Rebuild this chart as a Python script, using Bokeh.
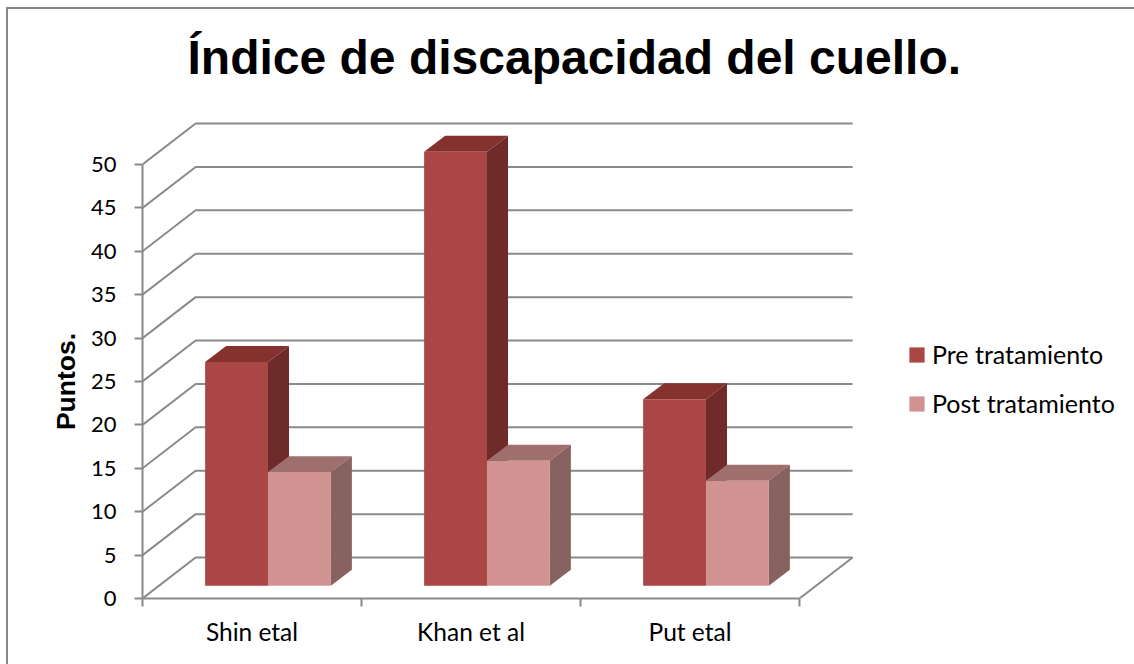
from bokeh.plotting import figure
from bokeh.embed import file_html
from bokeh.resources import INLINE
from bokeh.models import (Range1d, LinearAxis, FixedTicker, Legend, LegendItem)

title_text = "Índice de discapacidad del cuello."
y_title = "Puntos."
categories = ["Shin etal", "Khan et al", "Put etal"]
pre_values = [25.8, 50.0, 21.5]
post_values = [13.1, 14.4, 12.1]
series_names = ["Pre tratamiento", "Post tratamiento"]
y_ticks = [0, 5, 10, 15, 20, 25, 30, 35, 40, 45, 50]

GREY = "#8a8a8a"
PRE = ("#aa4643", "#85322f", "#6f2b29")
POST = ("#d19392", "#9f6f6e", "#876261")
TXT = "Lato"
WALL_DX, WALL_DY = 0.2426, 4.72      # depth of the floor, in category and value units
BAR_DX, BAR_DY = 0.096, 1.84         # depth of a bar
BAR_START, BAR_W, BAR_BASE = 0.286, 0.287, 1.46

p = figure(width=1128, height=657, output_backend="svg", toolbar_location=None,
           x_range=Range1d(0, 994 / 219), y_range=Range1d(0, 498 / 8.68),
           x_axis_type=None, y_axis_type=None, margin=(7, 0, 0, 6),
           min_border_left=134, min_border_right=0, min_border_top=91, min_border_bottom=68,
           title=title_text,
           styles={"border-top": "2px solid #868686", "border-left": "2px solid #868686",
                   "box-sizing": "border-box"})
p.outline_line_color = None
p.grid.visible = False
p.title.align = "left"
p.title.offset = 45
p.title.text_font = "Liberation Sans"
p.title.text_font_style = "bold"
p.title.text_font_size = "48px"
p.title.text_color = "black"
p.title.standoff = 33

# walls
n = len(categories)
p.multi_line([[0, WALL_DX, n + WALL_DX] for _ in y_ticks],
             [[v, v + WALL_DY, v + WALL_DY] for v in y_ticks],
             line_color=GREY, line_width=2)
p.line([n, n + WALL_DX], [0, WALL_DY], line_color=GREY, line_width=2)

# axes
yax = LinearAxis(ticker=FixedTicker(ticks=y_ticks), bounds=(0, 50))
yax.axis_line_color = GREY
yax.axis_line_width = 2
yax.major_tick_line_color = GREY
yax.major_tick_line_width = 2
yax.major_tick_in = 0
yax.major_tick_out = 8
yax.minor_tick_line_color = None
yax.major_label_standoff = 18
yax.major_label_text_font = TXT
yax.major_label_text_font_size = "22px"
yax.major_label_text_color = "black"
p.add_layout(yax, "left")

# axis that only carries the title of the value scale, centred on the middle of that scale
TITLE_AT = 25
tax = LinearAxis(ticker=FixedTicker(ticks=[TITLE_AT]), major_label_overrides={TITLE_AT: y_title},
                 major_label_orientation="vertical")
tax.axis_line_color = None
tax.major_tick_line_color = None
tax.minor_tick_line_color = None
tax.major_label_standoff = 1
tax.major_label_text_font = "Liberation Sans"
tax.major_label_text_font_style = "bold"
tax.major_label_text_font_size = "26.5px"
tax.major_label_text_color = "black"
p.add_layout(tax, "left")

edges = list(range(n + 1))
xax = LinearAxis(ticker=FixedTicker(ticks=edges), bounds=(0, n),
                 major_label_overrides={e: "" for e in edges})
xax.axis_line_color = GREY
xax.axis_line_width = 2
xax.major_tick_line_color = GREY
xax.major_tick_line_width = 2
xax.major_tick_in = 0
xax.major_tick_out = 8
xax.minor_tick_line_color = None
xax.major_label_standoff = 0
xax.major_label_text_font_size = "1px"
p.add_layout(xax, "below")

mids = [i + 0.5 for i in range(n)]
cax = LinearAxis(ticker=FixedTicker(ticks=mids),
                 major_label_overrides=dict(zip(mids, categories)))
cax.axis_line_color = None
cax.major_tick_line_color = None
cax.minor_tick_line_color = None
cax.major_label_standoff = 4
cax.major_label_text_font = TXT
cax.major_label_text_font_size = "24.5px"
cax.major_label_text_color = "black"
p.add_layout(cax, "below")

# bars
def draw_series(values, slot, cols):
    x0 = [i + BAR_START + slot * BAR_W for i in range(n)]
    x1 = [x + BAR_W for x in x0]
    top = [v + BAR_BASE for v in values]
    p.patches([[a, b, b + BAR_DX, a + BAR_DX] for a, b in zip(x0, x1)],
              [[t, t, t + BAR_DY, t + BAR_DY] for t in top],
              fill_color=cols[1], line_color=None)
    p.patches([[b, b, b + BAR_DX, b + BAR_DX] for b in x1],
              [[BAR_BASE, t, t + BAR_DY, BAR_BASE + BAR_DY] for t in top],
              fill_color=cols[2], line_color=None)
    return p.quad(left=x0, right=x1, bottom=[BAR_BASE] * n, top=top,
                  fill_color=cols[0], line_color=None)

r_pre = draw_series(pre_values, 0, PRE)
r_post = draw_series(post_values, 1, POST)

legend = Legend(items=[LegendItem(label=series_names[0], renderers=[r_pre]),
                       LegendItem(label=series_names[1], renderers=[r_post])],
                location=(765, 180), orientation="vertical")
legend.border_line_color = None
legend.background_fill_alpha = 0
legend.padding = 0
legend.margin = 0
legend.spacing = 19
legend.glyph_width = 19
legend.glyph_height = 19
legend.label_height = 15
legend.label_standoff = 6
legend.label_text_font = TXT
legend.label_text_font_size = "25px"
legend.label_text_color = "black"
p.add_layout(legend, "center")

open("out.html", "w").write(file_html(p, INLINE))
